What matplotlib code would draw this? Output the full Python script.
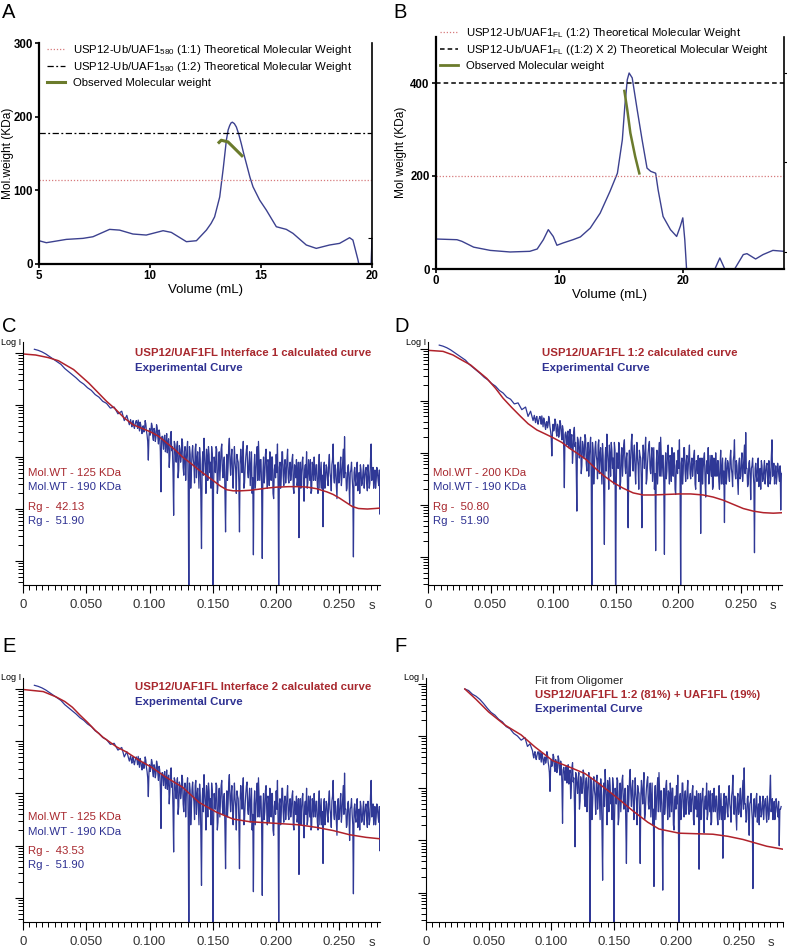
import numpy as np
import matplotlib
matplotlib.use('Agg')
import matplotlib.pyplot as plt
from matplotlib.ticker import MultipleLocator, FixedLocator
from matplotlib.lines import Line2D
from matplotlib.transforms import blended_transform_factory

plt.rcParams['font.family'] = ['Liberation Sans', 'DejaVu Sans']
plt.rcParams['mathtext.fontset'] = 'custom'
plt.rcParams['mathtext.rm'] = 'Liberation Sans'

# ---------------- SEC-MALS data (panels A, B) ----------------
vol_a = [5.0, 5.33, 6.23, 6.98, 7.43, 8.18, 8.63, 9.23, 9.83, 10.59, 10.96, 11.64, 12.09,
         12.54, 12.75, 12.91, 13.03, 13.14, 13.3, 13.44, 13.52, 13.59, 13.65, 13.71, 13.8,
         13.89, 14.0, 14.11, 14.22, 14.34, 14.5, 14.64, 14.94, 15.24, 15.69, 16.14, 16.44,
         17.04, 17.49, 18.09, 18.54, 18.99, 19.14, 19.37, 19.47, 19.95, 20.0]
mw_a = [31.6, 28.9, 33.4, 34.8, 37.0, 47.0, 46.0, 40.7, 39.3, 45.2, 42.9, 30.3, 31.6,
        46.0, 55.0, 64.0, 78.0, 91.0, 130.0, 168.0, 182.0, 188.0, 191.5, 192.5, 190.5,
        186.0, 176.0, 163.6, 150.0, 136.4, 118.0, 104.8, 86.7, 73.2, 50.6, 47.0, 41.6,
        25.8, 21.2, 25.8, 28.0, 35.7, 32.5, 5.4, -10.0, -10.0, 35.0]
obs_vol_a = [13.06, 13.21, 13.51, 13.74, 14.19]
obs_mw_a = [163.6, 168.0, 165.8, 159.0, 145.5]
theo_a_11 = 114
theo_a_12 = 178

vol_b = [0, 1.7, 2.1, 3.05, 4.4, 6.0, 7.6, 8.2, 8.7, 9.1, 9.5, 9.8, 10.3, 11.1, 11.7, 12.5,
         13.3, 14.1, 14.7, 15.1, 15.3, 15.5, 15.65, 15.9, 16.3, 16.7, 17.1, 17.4, 17.8, 18.0,
         18.4, 19.0, 19.5, 19.8, 20.0, 20.16, 20.3, 20.5, 22.4, 22.6, 23.0, 23.4, 23.6, 24.0,
         24.2, 24.9, 25.2, 25.9, 26.5, 27.3, 28.2]
mw_b = [64.5, 63, 59.5, 47, 40, 36.6, 38, 43, 63, 84.6, 70, 51, 56, 63, 69, 88,
        120, 167, 206, 278, 350, 407, 421.5, 411, 343, 278, 217, 210, 206, 170,
        113, 84.6, 70, 92, 110, 63, 2, -10, -10, 0, 23.7, 0, -10, -10,
        0, 31, 33, 21.5, 31, 40, 38]
obs_vol_b = [15.25, 15.5, 15.75, 16.14, 16.5]
obs_mw_b = [385.6, 342.7, 292.5, 242.0, 203.0]
theo_b_12 = 200
theo_b_12x2 = 400

# ---------------- SAXS data (panels C-F), log10 intensity ----------------
# experimental curve, low-s part
s_exp_lo = [0.009, 0.012, 0.015, 0.018, 0.021, 0.024, 0.027, 0.030, 0.033, 0.036, 0.039,
            0.042, 0.045, 0.048, 0.051, 0.054, 0.057, 0.060, 0.063, 0.066, 0.069, 0.072,
            0.075, 0.078, 0.080, 0.082, 0.084]
logi_exp_lo = [0.07, 0.05, 0.02, -0.02, -0.07, -0.12, -0.17, -0.22, -0.30, -0.36, -0.42,
               -0.48, -0.55, -0.60, -0.67, -0.72, -0.80, -0.85, -0.93, -0.97, -1.06, -1.04,
               -1.17, -1.12, -1.30, -1.20, -1.38]
# oligomer-fit version of the low-s part (panel F)
s_exp_lo_f = [0.031, 0.034, 0.037, 0.040, 0.043, 0.046, 0.049, 0.052, 0.055, 0.058, 0.061,
              0.064, 0.067, 0.070, 0.073, 0.076, 0.079, 0.081, 0.083]
logi_exp_lo_f = [-0.10, -0.13, -0.20, -0.24, -0.30, -0.38, -0.47, -0.55, -0.60, -0.68, -0.73,
                 -0.82, -0.86, -0.95, -1.00, -1.08, -1.03, -1.20, -1.15]
# experimental curve, noisy part, s = 0.085 ... 0.283 step 0.001
logi_exp_hi = [
    -1.28, -1.42, -1.30, -1.45, -1.33,
    -1.35, -1.29, -1.50, -1.38, -1.55, -1.40, -1.47, -1.36, -1.58, -2.06,
    -1.45, -1.52, -1.40, -1.68, -1.50, -1.62, -1.44, -1.75, -1.55, -2.67,
    -1.60, -1.85, -1.58, -1.78, -1.92, -1.65, -1.98, -1.51, -1.80, -3.12,
    -1.75, -2.10, -1.70, -2.25, -1.85, -2.00, -1.72, -2.35, -1.80, -2.05,
    -1.70, -5.00, -1.95, -2.30, -1.78, -2.15, -1.85, -2.40, -1.90, -2.60,
    -2.05, -3.76, -1.90, -1.64, -2.20, -1.85, -2.45, -1.95, -2.10, -1.80,
    -5.00, -2.00, -2.30, -1.85, -2.55, -1.90, -2.15, -1.75, -2.40, -2.00,
    -3.44, -1.95, -2.20, -1.64, -2.35, -1.85, -2.60, -1.80, -2.25, -1.95,
    -2.10, -3.44, -1.85, -2.30, -1.70, -2.50, -2.00, -1.78, -2.40, -1.90,
    -2.20, -2.70, -3.88, -1.95, -2.30, -1.80, -1.70, -2.45, -2.05, -3.95,
    -2.00, -2.35, -1.85, -2.60, -2.10, -1.90, -2.45, -2.00, -2.80, -2.15,
    -1.95, -1.75, -4.60, -2.10, -2.40, -1.90, -2.55, -2.05, -2.30, -1.85,
    -2.50, -2.10, -2.30, -1.95, -2.70, -2.20, -2.05, -2.45, -3.55, -2.10,
    -2.30, -2.00, -2.85, -2.15, -1.90, -2.50, -2.25, -2.05, -2.65, -2.20,
    -2.00, -2.45, -2.15, -2.70, -1.95, -2.35, -2.60, -3.34, -2.10, -2.40,
    -2.20, -2.55, -1.95, -2.40, -2.15, -1.75, -2.50, -2.25, -2.80, -2.10,
    -2.45, -2.00, -2.35, -1.85, -1.61, -2.30, -2.60, -2.15, -2.90, -2.25,
    -2.40, -3.92, -2.20, -2.55, -2.10, -2.45, -2.70, -2.25, -2.50, -2.15,
    -2.40, -2.20, -2.65, -2.30, -2.50, -1.75, -2.35, -2.60, -2.25, -2.45,
    -2.30, -2.55, -3.10, -2.40]
# the points in between, s = 0.0855 ... 0.2835 step 0.001
logi_exp_mid = [
    -1.36, -1.33, -1.40, -1.38, -1.30,
    -1.45, -1.40, -1.33, -1.48, -1.42, -1.52, -1.30, -1.50, -1.70, -1.60,
    -1.58, -1.35, -1.60, -1.45, -1.70, -1.38, -1.62, -1.48, -1.90, -1.65,
    -1.70, -1.62, -1.90, -1.55, -1.72, -2.20, -1.60, -1.88, -2.30, -1.70,
    -1.95, -1.80, -2.40, -1.78, -2.10, -1.65, -2.20, -1.90, -2.45, -1.85,
    -2.50, -1.80, -2.60, -1.92, -2.05, -2.50, -1.75, -2.05, -2.25, -1.82,
    -2.80, -2.15, -2.35, -1.95, -2.70, -2.05, -1.80, -2.30, -2.60, -1.95,
    -2.60, -2.20, -1.80, -2.70, -2.05, -2.45, -1.85, -2.25, -2.10, -2.65,
    -2.30, -2.45, -1.80, -2.10, -2.00, -2.30, -2.15, -2.10, -2.70, -2.05,
    -2.50, -2.15, -2.05, -1.95, -2.60, -2.20, -1.85, -2.30, -2.10, -2.55,
    -1.90, -2.40, -2.20, -2.60, -2.00, -2.45, -2.10, -2.05, -2.60, -2.30,
    -2.50, -1.95, -2.30, -2.05, -2.55, -2.15, -2.00, -2.70, -2.25, -2.40,
    -2.30, -2.55, -2.20, -2.60, -1.90, -2.35, -2.15, -2.50, -2.05, -2.40,
    -2.20, -2.45, -2.05, -2.60, -2.15, -2.40, -2.55, -2.10, -2.35, -2.60,
    -2.10, -2.55, -2.25, -2.40, -2.60, -2.05, -2.45, -2.70, -2.10, -2.45,
    -2.30, -2.15, -2.55, -2.25, -2.60, -2.10, -2.35, -2.20, -2.60, -2.15,
    -2.45, -2.10, -2.30, -2.65, -2.05, -2.40, -2.15, -2.55, -2.20, -2.50,
    -2.15, -2.55, -2.10, -2.40, -2.30, -2.65, -2.20, -2.45, -2.30, -2.10,
    -2.60, -2.30, -2.45, -2.20, -2.65, -2.30, -2.15, -2.55, -2.30, -2.60,
    -2.25, -2.50, -2.15, -2.60, -2.05, -2.45, -2.20, -2.40, -2.60, -2.20,
    -2.45, -2.25, -2.40, -2.35]
s_exp_hi = np.arange(85, 85 + len(logi_exp_hi)) / 1000.0
s_exp_mid = np.arange(85, 85 + len(logi_exp_mid)) / 1000.0 + 0.0005

# calculated curves
s_calc_c = [0, 0.01, 0.02, 0.028, 0.035, 0.04, 0.046, 0.052, 0.06, 0.066, 0.073, 0.08, 0.087,
            0.094, 0.101, 0.107, 0.113, 0.12, 0.126, 0.133, 0.139, 0.145, 0.15, 0.156, 0.161,
            0.166, 0.172, 0.179, 0.186, 0.192, 0.2, 0.21, 0.218, 0.225, 0.232, 0.24, 0.245,
            0.25, 0.255, 0.26, 0.265, 0.272, 0.278, 0.283]
logi_calc_c = [-0.02, -0.04, -0.09, -0.15, -0.25, -0.32, -0.45, -0.58, -0.78, -0.93, -1.08,
               -1.25, -1.38, -1.45, -1.52, -1.60, -1.72, -1.86, -2.00, -2.13, -2.25, -2.36,
               -2.45, -2.56, -2.63, -2.65, -2.65, -2.64, -2.62, -2.60, -2.58, -2.57, -2.57,
               -2.58, -2.61, -2.67, -2.72, -2.79, -2.87, -2.95, -2.99, -3.00, -2.99, -2.98]
s_calc_d = [0, 0.012, 0.02, 0.025, 0.034, 0.04, 0.047, 0.054, 0.06, 0.067, 0.074, 0.08,
            0.087, 0.094, 0.1, 0.107, 0.113, 0.12, 0.127, 0.133, 0.14, 0.148, 0.156, 0.164,
            0.172, 0.18, 0.19, 0.201, 0.21, 0.22, 0.228, 0.236, 0.244, 0.252, 0.26, 0.268,
            0.276, 0.284]
logi_calc_d = [-0.03, -0.05, -0.12, -0.19, -0.31, -0.43, -0.57, -0.76, -0.95, -1.13, -1.30,
               -1.44, -1.56, -1.64, -1.71, -1.80, -1.91, -2.02, -2.14, -2.28, -2.43, -2.57,
               -2.68, -2.77, -2.81, -2.81, -2.80, -2.79, -2.79, -2.81, -2.85, -2.91, -2.99,
               -3.07, -3.12, -3.15, -3.16, -3.15]
s_calc_e = [0, 0.016, 0.026, 0.033, 0.039, 0.045, 0.051, 0.057, 0.063, 0.074, 0.082, 0.092,
            0.101, 0.113, 0.126, 0.139, 0.153, 0.166, 0.179, 0.192, 0.205, 0.218, 0.232,
            0.245, 0.258, 0.271, 0.283]
logi_calc_e = [-0.01, -0.05, -0.15, -0.24, -0.35, -0.50, -0.64, -0.79, -0.92, -1.11, -1.21,
               -1.37, -1.49, -1.69, -1.88, -2.17, -2.36, -2.49, -2.54, -2.56, -2.58, -2.60,
               -2.65, -2.71, -2.79, -2.84, -2.87]
s_calc_f = [0.031, 0.04, 0.05, 0.063, 0.076, 0.087, 0.101, 0.114, 0.127, 0.138, 0.152,
            0.165, 0.177, 0.186, 0.192, 0.202, 0.215, 0.229, 0.241, 0.253, 0.272, 0.288]
logi_calc_f = [-0.10, -0.30, -0.54, -0.79, -0.98, -1.21, -1.47, -1.59, -1.72, -1.91, -2.17,
               -2.43, -2.65, -2.78, -2.81, -2.86, -2.87, -2.88, -2.92, -2.98, -3.11, -3.18]

RED = '#b0222b'
BLUE = '#2f3896'
RED_T = '#a8282e'
BLUE_T = '#2e3192'
NAVY = '#3c418f'
OLIVE = '#6b7b2c'

# merge the two interleaved sample sets of the noisy part
s_noisy = np.concatenate([s_exp_hi, s_exp_mid])
logi_noisy = np.concatenate([logi_exp_hi, logi_exp_mid])
order = np.argsort(s_noisy)
s_noisy = s_noisy[order]
logi_noisy = logi_noisy[order]

W, H = 787, 950
fig = plt.figure(figsize=(W / 100, H / 100), dpi=100)


def box(l, t, r, b):
    return fig.add_axes([l / W, 1 - b / H, (r - l) / W, (b - t) / H])


def ftext(x, y, s, **kw):
    kw.setdefault('va', 'center')
    fig.text(x / W, 1 - y / H, s, **kw)


# panel letters
for lab, x, y in [('A', 2, 13), ('B', 393, 13), ('C', 2, 326), ('D', 394, 326),
                  ('E', 2, 646), ('F', 394, 646)]:
    ftext(x, y, lab, fontsize=14.5, ha='left')


def sec_style(ax, xt, yt):
    ax.spines['top'].set_visible(False)
    for side in ['left', 'bottom']:
        ax.spines[side].set_linewidth(1.6)
    ax.spines['right'].set_linewidth(1.2)
    ax.set_xticks(xt)
    ax.set_yticks(yt)
    ax.tick_params(axis='both', length=3, width=1.2, pad=1.5, labelsize=8.3)
    for t in ax.get_xticklabels() + ax.get_yticklabels():
        t.set_fontweight('bold')


# ---------------- panel A ----------------
axA = box(39, 43, 372, 264)
axA.plot(vol_a, mw_a, color=NAVY, lw=1.0)
axA.axhline(theo_a_11, color='#d77a7c', ls=(0, (1, 1.5)), lw=0.9)
axA.axhline(theo_a_12, color='k', ls=(0, (5, 2, 1.5, 2)), lw=0.9)
axA.plot(obs_vol_a, obs_mw_a, color=OLIVE, lw=2.2, solid_capstyle='butt')
axA.set_xlim(5, 20)
axA.set_ylim(0, 300)
sec_style(axA, [5, 10, 15, 20], [0, 100, 200, 300])
axA.set_xlabel('Volume (mL)', fontsize=9.5, labelpad=1)
axA.set_ylabel('Mol.weight (KDa)', fontsize=8.6)
axA.yaxis.set_label_coords(-0.075, 0.5)
axA2 = axA.twinx()
axA2.set_ylim(0, 300)
axA2.set_yticks([35])
axA2.tick_params(direction='in', length=3, labelright=False)
for side in ['top', 'left', 'bottom', 'right']:
    axA2.spines[side].set_visible(False)
hA = [Line2D([], [], color='#d77a7c', ls=(0, (1, 1.5)), lw=0.9),
      Line2D([], [], color='k', ls=(0, (5, 2, 1.5, 2)), lw=0.9),
      Line2D([], [], color=OLIVE, lw=2.2)]
lA = [r'USP12-Ub/UAF1$\mathregular{_{580}}$ (1:1) Theoretical Molecular Weight',
      r'USP12-Ub/UAF1$\mathregular{_{580}}$ (1:2) Theoretical Molecular Weight',
      'Observed Molecular weight']
axA.legend(hA, lA, loc='upper left', bbox_to_anchor=(0.024, 1.0), frameon=False,
           fontsize=8.2, borderpad=0, borderaxespad=0, handlelength=1.6, handletextpad=0.7,
           labelspacing=0.3)

# ---------------- panel B ----------------
axB = box(436, 36.5, 784, 269)
axB.plot(vol_b, mw_b, color=NAVY, lw=1.0)
axB.axhline(theo_b_12, color='#d77a7c', ls=(0, (1, 1.5)), lw=0.9)
axB.axhline(theo_b_12x2, color='k', ls=(0, (3, 2)), lw=1.1)
axB.plot(obs_vol_b, obs_mw_b, color=OLIVE, lw=1.8, solid_capstyle='butt')
axB.set_xlim(0, 28.2)
axB.set_ylim(0, 500)
sec_style(axB, [0, 10, 20], [0, 200, 400])
axB.set_xlabel('Volume (mL)', fontsize=9.5, labelpad=1)
axB.set_ylabel('Mol weight (KDa)', fontsize=8.6)
axB.yaxis.set_label_coords(-0.082, 0.5)
axB2 = axB.twinx()
axB2.set_ylim(0, 500)
axB2.set_yticks([37, 230, 422])
axB2.tick_params(direction='out', length=3, labelright=False)
for side in ['top', 'left', 'bottom', 'right']:
    axB2.spines[side].set_visible(False)
hB = [Line2D([], [], color='#d77a7c', ls=(0, (1, 1.5)), lw=0.9),
      Line2D([], [], color='k', ls=(0, (3, 2)), lw=1.1),
      Line2D([], [], color=OLIVE, lw=2.0)]
lB = [r'USP12-Ub/UAF1$\mathregular{_{FL}}$ (1:2) Theoretical Molecular Weight',
      r'USP12-Ub/UAF1$\mathregular{_{FL}}$ ((1:2) X 2) Theoretical Molecular Weight',
      'Observed Molecular weight']
axB.legend(hB, lB, loc='upper left', bbox_to_anchor=(0.011, 1.045), frameon=False,
           fontsize=8.2, borderpad=0, borderaxespad=0, handlelength=1.6, handletextpad=0.7,
           labelspacing=0.3)


# ---------------- SAXS panels ----------------
NARROW = ['Liberation Sans Narrow', 'Liberation Sans']


def saxs(ax, s_calc, logi_calc, s_lo, logi_lo, xmax, ylim):
    ax.plot(np.concatenate([s_lo, s_noisy]), np.concatenate([logi_lo, logi_noisy]),
            color=BLUE, lw=0.9)
    ax.plot(s_calc, logi_calc, color=RED, lw=1.1)
    ax.set_xlim(0, xmax)
    ax.set_ylim(*ylim)
    ax.spines['top'].set_visible(False)
    ax.spines['right'].set_visible(False)
    ax.set_xticks([0, 0.05, 0.1, 0.15, 0.2, 0.25])
    ax.set_xticklabels(['0', '0.050', '0.100', '0.150', '0.200', '0.250'])
    ax.xaxis.set_minor_locator(MultipleLocator(0.005))
    ax.set_yticks([-4, -3, -2, -1, 0])
    ax.set_yticklabels([])
    ax.yaxis.set_minor_locator(FixedLocator(
        [d + np.log10(m) for d in range(-5, 1) for m in range(2, 10)]))
    ax.tick_params(which='major', length=6, width=0.8, pad=4, labelsize=9.5,
                   labelcolor='#333333')
    ax.tick_params(which='minor', length=3.5, width=0.7)
    for t in ax.get_xticklabels():
        t.set_fontfamily(NARROW)
    tr = blended_transform_factory(ax.transData, ax.transAxes)
    ax.text(0.2757, -0.085, 's', transform=tr, ha='center', va='center', fontsize=9.5,
            color='#333333', family=NARROW)
    ax.text(-0.005, 1.0, 'Log I', transform=ax.transAxes, ha='right', va='center',
            fontsize=6.5)


axC = box(23, 342, 380, 585)
saxs(axC, s_calc_c, logi_calc_c, s_exp_lo, logi_exp_lo, 0.282, (-4.46, 0.21))
axD = box(428, 342, 782, 585)
saxs(axD, s_calc_d, logi_calc_d, s_exp_lo, logi_exp_lo, 0.283, (-4.54, 0.13))
axE = box(23, 678, 380, 922)
saxs(axE, s_calc_e, logi_calc_e, s_exp_lo, logi_exp_lo, 0.282, (-4.46, 0.21))
axF = box(426, 678, 783, 922)
saxs(axF, s_calc_f, logi_calc_f, s_exp_lo_f, logi_exp_lo_f, 0.285, (-4.56, 0.11))

FS = 8.2
# C
ftext(135, 353, 'USP12/UAF1FL Interface 1 calculated curve', color=RED_T, fontsize=FS, weight='bold')
ftext(135, 368, 'Experimental Curve', color=BLUE_T, fontsize=FS, weight='bold')
ftext(28, 473, 'Mol.WT - 125 KDa', color=RED_T, fontsize=FS)
ftext(28, 487, 'Mol.WT - 190 KDa', color=BLUE_T, fontsize=FS)
ftext(28, 507, 'Rg -  42.13', color=RED_T, fontsize=FS)
ftext(28, 521, 'Rg -  51.90', color=BLUE_T, fontsize=FS)
# D
ftext(542, 353, 'USP12/UAF1FL 1:2 calculated curve', color=RED_T, fontsize=FS, weight='bold')
ftext(542, 368, 'Experimental Curve', color=BLUE_T, fontsize=FS, weight='bold')
ftext(433, 473, 'Mol.WT - 200 KDa', color=RED_T, fontsize=FS)
ftext(433, 487, 'Mol.WT - 190 KDa', color=BLUE_T, fontsize=FS)
ftext(433, 507, 'Rg -  50.80', color=RED_T, fontsize=FS)
ftext(433, 521, 'Rg -  51.90', color=BLUE_T, fontsize=FS)
# E
ftext(135, 687, 'USP12/UAF1FL Interface 2 calculated curve', color=RED_T, fontsize=FS, weight='bold')
ftext(135, 702, 'Experimental Curve', color=BLUE_T, fontsize=FS, weight='bold')
ftext(28, 817, 'Mol.WT - 125 KDa', color=RED_T, fontsize=FS)
ftext(28, 832, 'Mol.WT - 190 KDa', color=BLUE_T, fontsize=FS)
ftext(28, 851, 'Rg -  43.53', color=RED_T, fontsize=FS)
ftext(28, 865, 'Rg -  51.90', color=BLUE_T, fontsize=FS)
# F
ftext(535, 681, 'Fit from Oligomer', color='#222222', fontsize=FS)
ftext(535, 695, 'USP12/UAF1FL 1:2 (81%) + UAF1FL (19%)', color=RED_T, fontsize=FS, weight='bold')
ftext(535, 709, 'Experimental Curve', color=BLUE_T, fontsize=FS, weight='bold')

fig.savefig('out.png', dpi=100)
